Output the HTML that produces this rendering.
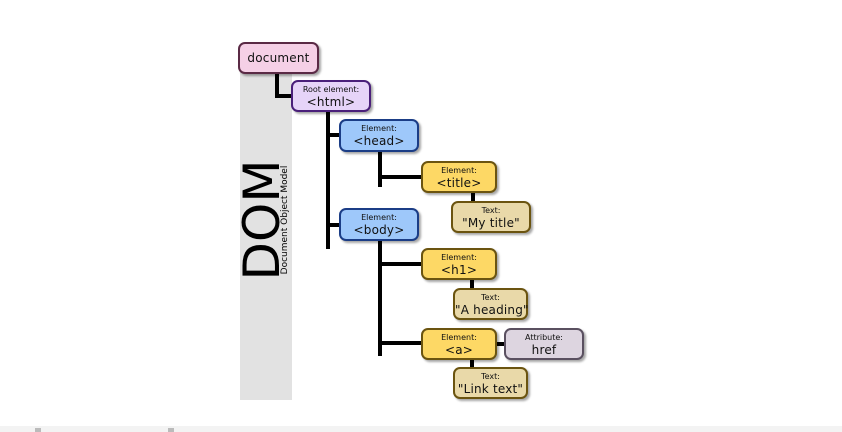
<!DOCTYPE html>
<html><head><style>
body{margin:0;width:842px;height:432px;background:#fff;position:relative;overflow:hidden;font-family:"DejaVu Sans","Liberation Sans",sans-serif}
.b{position:absolute;box-sizing:border-box;border:2px solid;border-radius:7px;text-align:center;color:#111;box-shadow:2px 2px 2px rgba(0,0,0,.35);white-space:nowrap}
.b small{display:block;font-size:8px;margin-top:3px;line-height:9px}
.b span{display:block;font-size:12px;line-height:17px;letter-spacing:0.2px}
.l{position:absolute;background:#000}
.y{background:#fdd865;border-color:#6b5410}
.t{background:#e9d9a9;border-color:#6b5410}
.bl{background:#9ec8fa;border-color:#1b3d86}
</style></head><body>
<div style="position:absolute;left:240px;top:62px;width:52px;height:338px;background:#e2e2e2"></div>
<div style="position:absolute;left:0;top:426px;width:842px;height:6px;background:#f3f3f3"></div>
<div style="position:absolute;left:35px;top:428px;width:6px;height:4px;background:#bbb"></div>
<div style="position:absolute;left:168px;top:428px;width:6px;height:4px;background:#bbb"></div>
<div style="position:absolute;left:262px;top:220px;transform:translate(-50%,-50%) rotate(-90deg);font-size:50px;line-height:50px;white-space:nowrap;color:#000">DOM</div>
<div style="position:absolute;left:285px;top:220px;transform:translate(-50%,-50%) rotate(-90deg);font-size:9px;white-space:nowrap;color:#000">Document Object Model</div>
<div class="l" style="left:275px;top:72px;width:4px;height:26px"></div>
<div class="l" style="left:275px;top:94px;width:18px;height:4px"></div>
<div class="l" style="left:326px;top:110px;width:4px;height:139px"></div>
<div class="l" style="left:326px;top:133px;width:15px;height:4px"></div>
<div class="l" style="left:326px;top:223px;width:15px;height:4px"></div>
<div class="l" style="left:378px;top:150px;width:4px;height:37px"></div>
<div class="l" style="left:378px;top:175px;width:45px;height:4px"></div>
<div class="l" style="left:378px;top:239px;width:4px;height:117px"></div>
<div class="l" style="left:378px;top:262px;width:45px;height:4px"></div>
<div class="l" style="left:378px;top:341px;width:45px;height:4px"></div>
<div class="l" style="left:471px;top:191px;width:4px;height:12px"></div>
<div class="l" style="left:470px;top:278px;width:4px;height:12px"></div>
<div class="l" style="left:470px;top:358px;width:4px;height:11px"></div>
<div class="l" style="left:495px;top:342px;width:11px;height:4px"></div>
<div class="b" style="left:238px;top:42px;width:81px;height:32px;background:#f5d0e6;border-color:#5a2a45"><span style="line-height:28px">document</span></div>
<div class="b" style="left:291px;top:80px;width:80px;height:32px;background:#e6d4f8;border-color:#4a1f7a"><small>Root element:</small><span>&lt;html&gt;</span></div>
<div class="b bl" style="left:339px;top:119px;width:80px;height:33px"><small>Element:</small><span>&lt;head&gt;</span></div>
<div class="b y" style="left:421px;top:161px;width:76px;height:32px"><small>Element:</small><span>&lt;title&gt;</span></div>
<div class="b t" style="left:451px;top:201px;width:80px;height:32px"><small>Text:</small><span>"My title"</span></div>
<div class="b bl" style="left:339px;top:208px;width:80px;height:33px"><small>Element:</small><span>&lt;body&gt;</span></div>
<div class="b y" style="left:421px;top:248px;width:76px;height:32px"><small>Element:</small><span>&lt;h1&gt;</span></div>
<div class="b t" style="left:453px;top:288px;width:75px;height:32px"><small>Text:</small><span>"A heading"</span></div>
<div class="b y" style="left:421px;top:328px;width:76px;height:32px"><small>Element:</small><span>&lt;a&gt;</span></div>
<div class="b" style="left:504px;top:328px;width:80px;height:32px;background:#ddd5e0;border-color:#5a5060"><small>Attribute:</small><span>href</span></div>
<div class="b t" style="left:453px;top:367px;width:75px;height:32px"><small>Text:</small><span>"Link text"</span></div>
</body></html>
